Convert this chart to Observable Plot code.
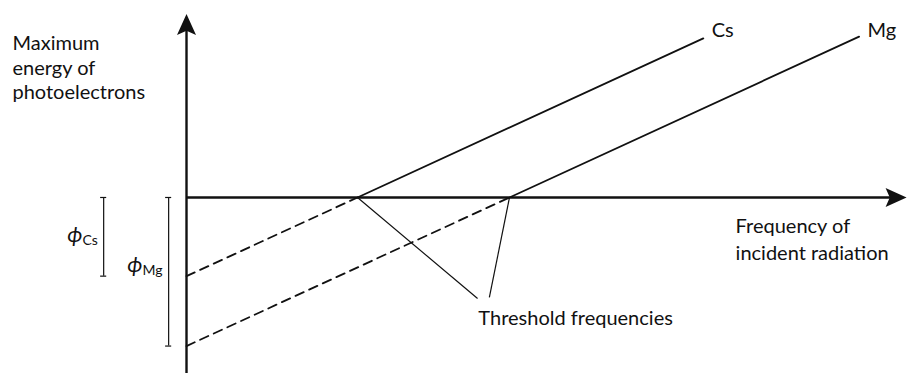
<!DOCTYPE html>
<html>
<head>
<meta charset="utf-8">
<script src="https://cdn.jsdelivr.net/npm/d3@7"></script>
<script src="https://cdn.jsdelivr.net/npm/@observablehq/plot@0.6"></script>
<style>
  html, body { margin: 0; padding: 0; background: #fff; }
  #chart svg { display: block; }
</style>
</head>
<body>
<div id="chart"></div>
<script>
// ---- data (arbitrary units: frequency f, energy E) ----
const metals = ["Cs", "Mg"];
const thresholdFrequency = [4.5, 8.5];   // where each line meets the frequency axis
const workFunction = [4.5, 8.5];         // intercept below zero on the energy axis
const lineEndFrequency = [13.6, 17.7];
const lineEndEnergy = [9.1, 9.2];

// axis extents
const frequencyDomain = [-4.895, 18.974];
const energyDomain = [-10.07, 11.27];
const frequencyArrowTip = 18.95;
const energyArrowTip = 10.5;

// annotation anchors (data units)
const yAxisLabel = {text: "Maximum\nenergy of\nphotoelectrons", f: -4.58, E: 5.63};
const xAxisLabel = {text: "Frequency of\nincident radiation", f: 14.45, E: -3.6};
const seriesLabelF = [13.82, 17.92];
const seriesLabelE = [9.21, 9.21];
const thresholdLabel = {text: "Threshold frequencies", f: 7.68, E: -7.32};
const thresholdPointerF = [7.66, 7.97];
const thresholdPointerE = [-5.78, -5.72];
const phiBarF = [-2.18, -0.47];
const phiLabelF = [-2.74, -1.16];
const phiLabelE = [-2.57, -4.29];

// ---- tables built from the arrays ----
const solid = metals.flatMap((m, i) => [
  {metal: m, f: thresholdFrequency[i], E: 0},
  {metal: m, f: lineEndFrequency[i], E: lineEndEnergy[i]}
]);
const dashed = metals.flatMap((m, i) => [
  {metal: m, f: 0, E: -workFunction[i]},
  {metal: m, f: thresholdFrequency[i], E: 0}
]);
const pointers = metals.map((m, i) => ({
  f1: thresholdFrequency[i], E1: 0, f2: thresholdPointerF[i], E2: thresholdPointerE[i]
}));
const bars = metals.map((m, i) => ({metal: m, f: phiBarF[i], E1: 0, E2: -workFunction[i]}));
const caps = bars.flatMap(b => [
  {f1: b.f - 0.08, f2: b.f + 0.08, E: b.E1},
  {f1: b.f - 0.08, f2: b.f + 0.08, E: b.E2}
]);
const seriesLabels = metals.map((m, i) => ({text: m, f: seriesLabelF[i], E: seriesLabelE[i]}));
const phiLabels = metals.map((m, i) => ({sub: m, f: phiLabelF[i], E: phiLabelE[i]}));

// filled arrowhead with its tip at the origin, pointing up
const arrowHead = {
  draw(context) {
    const L = 21, W = 9.5;
    context.moveTo(0, 0);
    context.lineTo(W, L);
    context.lineTo(0, L * 0.8);
    context.lineTo(-W, L);
    context.closePath();
  }
};

const font = "Lato, 'Open Sans', sans-serif";
const ink = "#111";

const chart = Plot.plot({
  width: 907,
  height: 373,
  margin: 0,
  style: {fontFamily: font, background: "#fff", overflow: "visible"},
  x: {domain: frequencyDomain, axis: null},
  y: {domain: energyDomain, axis: null},
  marks: [
    // axes
    Plot.ruleX([0], {y1: energyDomain[0], y2: energyArrowTip - 0.6, stroke: ink, strokeWidth: 2.4}),
    Plot.ruleY([0], {x1: 0, x2: frequencyArrowTip - 0.3, stroke: ink, strokeWidth: 2.4}),
    Plot.dot([{f: 0, E: energyArrowTip}], {x: "f", y: "E", symbol: arrowHead, r: 5, fill: ink, stroke: "none"}),
    Plot.dot([{f: frequencyArrowTip, E: 0}], {x: "f", y: "E", symbol: arrowHead, r: 5, rotate: 90, fill: ink, stroke: "none"}),
    // dashed extrapolations
    Plot.line(dashed, {x: "f", y: "E", z: "metal", stroke: ink, strokeWidth: 1.8, strokeDasharray: "9,6"}),
    // lines
    Plot.line(solid, {x: "f", y: "E", z: "metal", stroke: ink, strokeWidth: 1.8}),
    // threshold pointers
    Plot.link(pointers, {x1: "f1", y1: "E1", x2: "f2", y2: "E2", stroke: ink, strokeWidth: 1.2}),
    // work function bars
    Plot.ruleX(bars, {x: "f", y1: "E1", y2: "E2", stroke: ink, strokeWidth: 1.2}),
    Plot.ruleY(caps, {y: "E", x1: "f1", x2: "f2", stroke: ink, strokeWidth: 1.2}),
    // texts
    Plot.text([yAxisLabel], {x: "f", y: "E", text: "text", textAnchor: "start", lineAnchor: "bottom", lineHeight: 1.225, fontSize: 20, fill: ink}),
    Plot.text([xAxisLabel], {x: "f", y: "E", text: "text", textAnchor: "start", lineAnchor: "bottom", lineHeight: 1.35, fontSize: 20, fill: ink}),
    Plot.text(seriesLabels, {x: "f", y: "E", text: "text", textAnchor: "start", lineAnchor: "bottom", fontSize: 20, fill: ink}),
    Plot.text([thresholdLabel], {x: "f", y: "E", text: "text", textAnchor: "start", lineAnchor: "bottom", fontSize: 20, fill: ink}),
    Plot.text(phiLabels, {x: "f", y: "E", text: () => "\u03D5", textAnchor: "end", lineAnchor: "bottom", fontSize: 22, fontStyle: "italic", fill: ink}),
    Plot.text(phiLabels, {x: "f", y: "E", text: "sub", textAnchor: "start", lineAnchor: "bottom", fontSize: 14, dy: 3, fill: ink})
  ]
});
document.getElementById("chart").appendChild(chart);
</script>
</body>
</html>
